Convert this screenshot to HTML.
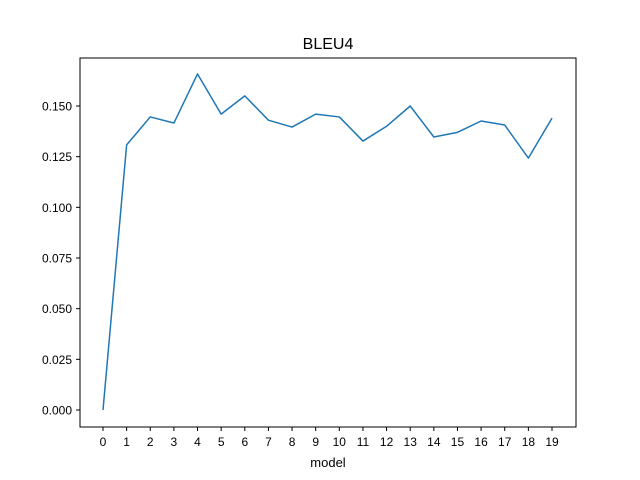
<!DOCTYPE html>
<html><head><meta charset="utf-8"><style>body{margin:0;background:#fff}svg{display:block;font-family:"Liberation Sans","DejaVu Sans",sans-serif}</style></head>
<body>
<svg id="chart" width="640" height="480">
<rect x="0" y="0" width="640" height="480" fill="#fff"/>
<text x="328" y="49" text-anchor="middle" font-size="16">BLEU4</text>
<g id="plot"></g>
<rect x="80" y="58" width="496" height="369" fill="none" stroke="#000" stroke-width="1"/>
<text x="328" y="467" text-anchor="middle" font-size="13">model</text>
</svg>
<script>
const categories=[0,1,2,3,4,5,6,7,8,9,10,11,12,13,14,15,16,17,18,19];
const bleu=[0,0.1308,0.1446,0.1416,0.1658,0.146,0.155,0.143,0.1396,0.146,0.1446,0.1327,0.140,0.150,0.1347,0.137,0.1426,0.1406,0.1243,0.144];
const yTicks=[0,0.025,0.05,0.075,0.1,0.125,0.15];
const yLabels=["0.000","0.025","0.050","0.075","0.100","0.125","0.150"];
const NS="http://www.w3.org/2000/svg";
const g=document.getElementById('plot');
const xS=v=>103+(v-0)*(552-103)/19;
const yS=v=>410-v*2026.7;
function mk(t,a){const e=document.createElementNS(NS,t);for(const k in a)e.setAttribute(k,a[k]);g.appendChild(e);return e;}
categories.forEach(c=>{
 const t=mk('line',{x1:xS(c),x2:xS(c),y1:427,y2:431,stroke:'#000'});
 
 
 const l=mk('text',{x:xS(c),y:446,'text-anchor':'middle','font-size':12});l.textContent=c;
 
 
});
yTicks.forEach((v,i)=>{
 const t=mk('line',{x1:76,x2:80,y1:yS(v),y2:yS(v),stroke:'#000'});
 
 
 const l=mk('text',{x:72,y:yS(v)+4.5,'text-anchor':'end','font-size':12});l.textContent=yLabels[i];
 
 
});
const p=mk('polyline',{points:categories.map((c,i)=>xS(c)+','+yS(bleu[i])).join(' '),fill:'none',stroke:'#1f77b4','stroke-width':1.5,'stroke-linejoin':'round'});


</script>
</body></html>
